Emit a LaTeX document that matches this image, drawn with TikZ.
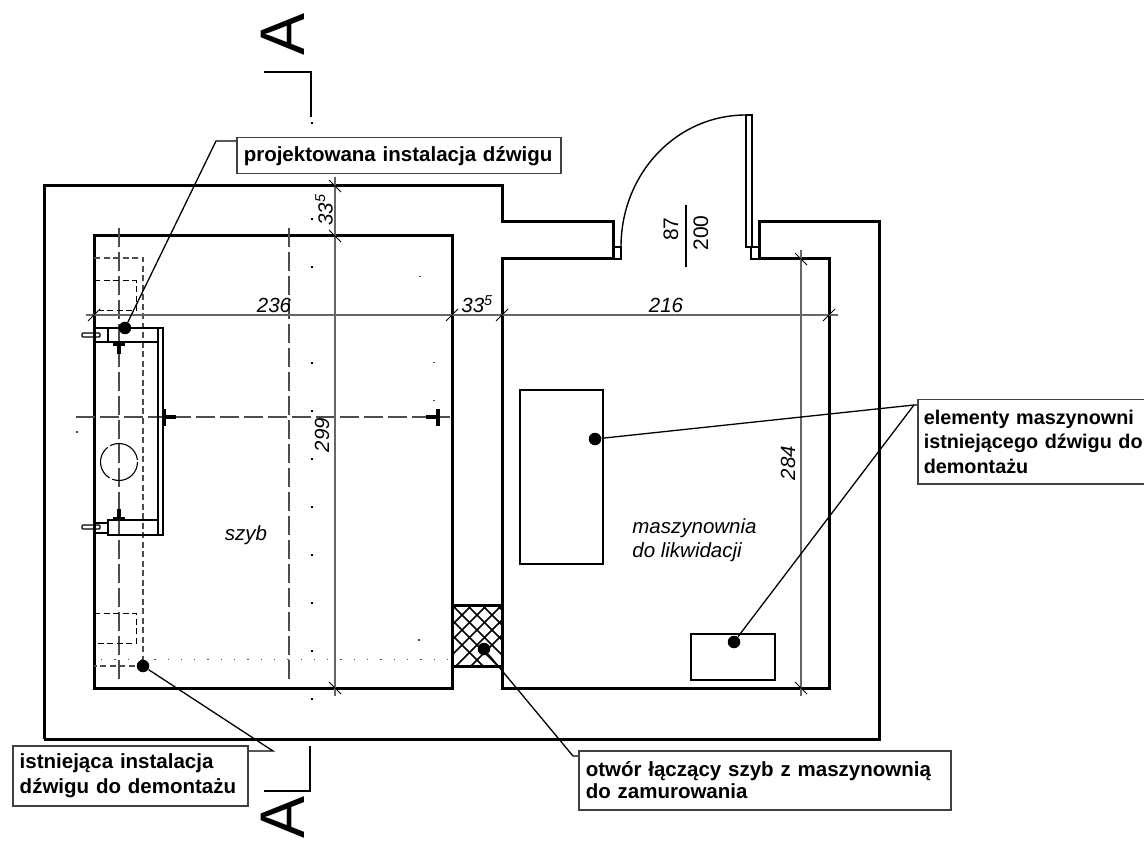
\documentclass[tikz,border=0pt]{standalone}
\usepackage{fontspec}
\setmainfont{Liberation Sans}
\begin{document}
\begin{tikzpicture}[x=1pt, y=-1pt, line width=0.8pt,
        every node/.append style={inner sep=0pt, font=\fontsize{20.5}{23}\selectfont\itshape}]
      \tikzstyle{wall} = [line width=3pt, line join=miter, black]
      \tikzstyle{thin} = [line width=1.4pt, black]
      \tikzstyle{dim} = [line width=1.3pt, black!60]
      \tikzstyle{tick} = [line width=0.9pt, black]
      \tikzstyle{axis} = [line width=1.2pt, black!70, dash pattern=on 19pt off 5pt]
      \tikzstyle{hidden} = [line width=1.2pt, black!70, dash pattern=on 6pt off 3.5pt]
      \tikzstyle{dotrow} = [line width=1pt, black!70, dash pattern=on 1.3pt off 12pt]
      \tikzstyle{leader} = [line width=1.3pt, black]
      \tikzstyle{bullet} = [circle, fill=black, minimum size=12.5pt]
      \tikzstyle{labelbox} = [draw=black!75, line width=1.5pt, fill=white, align=left, text width=#1, inner xsep=7pt, inner ysep=2pt, anchor=north west]
      \tikzstyle{sectionA} = [font=\fontsize{63}{63}\selectfont, rotate=90]
      \useasboundingbox (0,0) rectangle (1144,850);
      % walls
      \draw[wall] (44,739) -- (44,186) -- (502,186) -- (502,222) -- (613,222) -- (613,259) -- (502,259) -- (502,605);
      \draw[wall] (502,666) -- (502,688) -- (829,688) -- (829,259) -- (759,259) -- (759,222) -- (879,222) -- (879,739) -- (44,739);
      \draw[wall] (452,605) -- (452,236) -- (94,236) -- (94,688) -- (452,688) -- (452,666);
      % opening
      \begin{scope}
        \clip (452,605) rectangle (502,666);
        \foreach \i in {0,...,9} {
          \draw[line width=1.6pt] (422+15*\i,605) -- ++(61,61);
          \draw[line width=1.6pt] (532-15*\i,605) -- ++(-61,61);
        }
      \end{scope}
      \draw[wall] (452,605) rectangle (502,666);
      % door
      \draw[thin] (613,247) rectangle (621,259);
      \draw[thin] (751,247) rectangle (759,259);
      \draw[thin] (746,115) rectangle (752,247);
      \draw[thin] (621,247) .. controls (621,174) and (676,115) .. (746,115);
      \draw[thin] (686,205) -- (686,267);
      \node[rotate=90, font=\fontsize{21}{23}\selectfont] (doorW) at (671,229) {87};
      \node[rotate=90, font=\fontsize{21}{23}\selectfont] (doorH) at (701,233) {200};
      % machine room equipment
      \draw[thin, line width=1.8pt] (520,390) rectangle (603,564);
      \draw[thin, line width=1.8pt] (691,634) rectangle (775,680);
      % axes
      \draw[axis] (119,228) -- (119,680);
      \draw[axis] (289,228) -- (289,680);
      \draw[axis] (76,417) -- (450,417);
      \draw[hidden] (94,258) -- (143,258) -- (143,666) -- (94,666);
      \draw[hidden, black, line width=1pt] (94,281) -- (136,281) -- (136,311) -- (94,311);
      \draw[hidden, black, line width=1pt] (94,613) -- (136,613) -- (136,643) -- (94,643);
      \draw[dotrow] (101,659) -- (450,659);
      % section line
      \draw[thin] (264,72) -- (311,72) -- (311,117);
      \draw[thin] (264,791) -- (310,791) -- (310,746);
      \foreach \y in {0,...,12}
        \fill (310.5,122+48*\y) rectangle ++(2,2);
      \foreach \x/\y in {433/362,433/400,419/276,418/639,76/431}
        \fill[black!70] (\x,\y) rectangle ++(1.5,1.5);
      \node[sectionA] (sectionTop) at (283,34) {A};
      \node[sectionA] (sectionBottom) at (283,817) {A};
      % lift rails
      \draw[thin] (108,328) rectangle (158,342);
      \draw[thin] (108,520) rectangle (158,535);
      \draw[thin] (158,328) rectangle (163,535);
      \draw[thin] (94,328) -- (108,328) (94,342) -- (108,342);
      \draw[thin] (94,523) -- (108,523) (94,533) -- (108,533);
      \draw[thin, rounded corners=1pt] (82,333) rectangle (100,337);
      \draw[thin, rounded corners=1pt] (82,525) rectangle (100,529);
      \draw[line width=3.5pt] (113,344) -- (125,344) (119,344) -- (119,354);
      \draw[line width=3.5pt] (113,519) -- (125,519) (119,519) -- (119,509);
      \draw[line width=3.5pt] (164,409) -- (164,426) (164,417) -- (176,417);
      \draw[line width=3.5pt] (438,409) -- (438,426) (438,417) -- (426,417);
      \draw[thin, line width=1.1pt, dash pattern=on 36pt off 3pt] (119,462) circle (18.5);
      % dimensions
      \draw[dim] (86,315) -- (838,315);
      \draw[dim] (335,177) -- (335,696);
      \draw[dim] (801,250) -- (801,696);
      \foreach \x in {94,452,502,829}
        \draw[tick] (\x-6,315+6) -- (\x+6,315-6);
      \foreach \y in {186,236,688}
        \draw[tick] (335-6,\y-6) -- (335+6,\y+6);
      \foreach \y in {259,688}
        \draw[tick] (801-6,\y-6) -- (801+6,\y+6);
      \node (dimShaftW) at (274,305) {236};
      \node (dimGap) at (477,304) {33\textsuperscript{5}};
      \node (dimRoomW) at (666,305) {216};
      \node[rotate=90] (dimTop) at (324,210) {33\textsuperscript{5}};
      \node[rotate=90] (dimShaftH) at (322,435) {299};
      \node[rotate=90] (dimRoomH) at (788,463) {284};
      \node (shaft) at (246,535) {szyb};
      \node[align=left, anchor=north west, font=\fontsize{20.5}{24}\selectfont\itshape] (room) at (632,518) {maszynownia\\do likwidacji};
      % labels
      \node[bullet] (newDot) at (125,328) {};
      \node[bullet] (oldDot) at (143,666) {};
      \node[bullet] (holeDot) at (484,649) {};
      \node[bullet] (motorDot) at (595,439) {};
      \node[bullet] (panelDot) at (734,642) {};
      \node[labelbox=310pt, minimum height=36pt, font=\fontsize{20.5}{23}\selectfont\bfseries] (newLabel) at (236,137) {projektowana instalacja dźwigu};
      \node[labelbox=221pt, minimum height=60pt, font=\fontsize{20.5}{25}\selectfont\bfseries] (oldLabel) at (12,745) {istniejąca instalacja\\dźwigu do demontażu};
      \node[labelbox=358pt, minimum height=59pt, font=\fontsize{20.5}{22}\selectfont\bfseries] (holeLabel) at (578,750) {otwór łączący szyb z maszynownią\\do zamurowania};
      \node[labelbox=240pt, inner xsep=6pt, minimum height=84pt, font=\fontsize{19.8}{24.5}\selectfont\bfseries] (machLabel) at (917,399) {elementy maszynowni\\istniejącego dźwigu do\\demontażu};
      \coordinate (newBend) at (216,141);
      \coordinate (oldBend) at (273,751);
      \coordinate (holeBend) at (573,756);
      \coordinate (machBend) at (914,405);
      \draw[leader] (newDot) -- (newBend) -- (newBend -| newLabel.west);
      \draw[leader] (oldDot) -- (oldBend) -- (oldBend -| oldLabel.east);
      \draw[leader] (holeDot) -- (holeBend) -- (holeBend -| holeLabel.west);
      \draw[leader] (motorDot) -- (machBend) -- (machBend -| machLabel.west);
      \draw[leader] (panelDot) -- (machBend);
    \end{tikzpicture}
\end{document}
